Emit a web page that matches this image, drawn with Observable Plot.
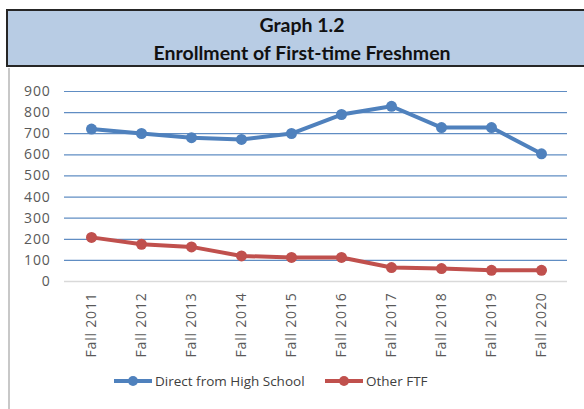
<!DOCTYPE html>
<html><head><meta charset="utf-8">
<script src="https://cdn.jsdelivr.net/npm/d3@7"></script>
<script src="https://cdn.jsdelivr.net/npm/@observablehq/plot@0.6"></script>
<style>
body{margin:0;background:#fff;font-family:"Open Sans",Lato,sans-serif;}
#wrap{position:relative;width:584px;height:409px;overflow:hidden;}
#frame{position:absolute;left:8px;top:68px;width:600px;height:400px;border-left:2px solid #c8c8c8;}
#title{position:absolute;left:6px;top:9px;width:600px;height:58px;background:#b8cce4;border:2px solid #262626;border-right:none;box-sizing:border-box;}
#title div{position:absolute;left:-6px;width:600px;text-align:center;font-family:Lato,sans-serif;font-weight:bold;font-size:19.5px;color:#111;line-height:22px;}
#chart{position:absolute;left:0;top:68px;}
#chart svg text{letter-spacing:0.8px;}
#legend{position:absolute;top:372px;left:0;width:584px;font-size:13.5px;color:#404040;}
.li{position:absolute;top:0;display:flex;align-items:center;}
</style></head>
<body><div id="wrap">
<div id="frame"></div>
<div id="title"><div style="top:3px">Graph 1.2</div><div style="top:31px">Enrollment of First-time Freshmen</div></div>
<div id="chart"></div>
<div id="legend"></div>
</div>
<script>
const years = ["Fall 2011","Fall 2012","Fall 2013","Fall 2014","Fall 2015","Fall 2016","Fall 2017","Fall 2018","Fall 2019","Fall 2020"];
const directHS = [722, 701, 681, 673, 701, 791, 830, 729, 729, 605];
const otherFTF = [209, 176, 164, 121, 114, 114, 66, 61, 53, 53];
const seriesNames = ["Direct from High School","Other FTF"];
const colors = ["#4f81bd","#c0504d"];
const yTicks = [0,100,200,300,400,500,600,700,800,900];

const data = [];
years.forEach((y,i)=>{
  data.push({year:y, value:directHS[i], series:seriesNames[0]});
  data.push({year:y, value:otherFTF[i], series:seriesNames[1]});
});

const plot = Plot.plot({
  width:584, height:300,
  marginLeft:64, marginRight:17, marginTop:23, marginBottom:87,
  style:{fontFamily:"'Open Sans', Lato, sans-serif", fontSize:"14px", color:"#595959", background:"transparent"},
  x:{type:"band", domain:years, padding:0, label:null},
  y:{domain:[0,900], label:null},
  color:{domain:seriesNames, range:colors},
  marks:[
    Plot.ruleY(yTicks.filter(d=>d>0), {stroke:"#4f81bd", strokeWidth:1.2, strokeOpacity:0.9}),
    Plot.ruleY([0], {stroke:"#d9d9d9", strokeWidth:1.5}),
    Plot.ruleX([years[0]], {x:()=>0, stroke:"#4f81bd", strokeWidth:1.2}),
    Plot.axisY(yTicks, {tickSize:0, tickPadding:14, fill:"#595959", fontSize:14}),
    Plot.axisX({tickSize:0, tickRotate:-90, tickPadding:11, fill:"#595959", fontSize:14}),
    Plot.line(data, {x:"year", y:"value", z:"series", stroke:"series", strokeWidth:4}),
    Plot.dot(data, {x:"year", y:"value", fill:"series", r:5.5})
  ]
});
document.getElementById("chart").appendChild(plot);

const lg = document.getElementById("legend");
const pos = [113, 324];
seriesNames.forEach((n,i)=>{
  const d = document.createElement("div");
  d.className="li"; d.style.left=pos[i]+"px";
  d.innerHTML = `<svg width="40" height="18"><line x1="1" x2="39" y1="9" y2="9" stroke="${colors[i]}" stroke-width="4"/><circle cx="20" cy="9" r="5" fill="${colors[i]}"/></svg><span style="margin-left:2px">${n}</span>`;
  lg.appendChild(d);
});
</script>
</body></html>
